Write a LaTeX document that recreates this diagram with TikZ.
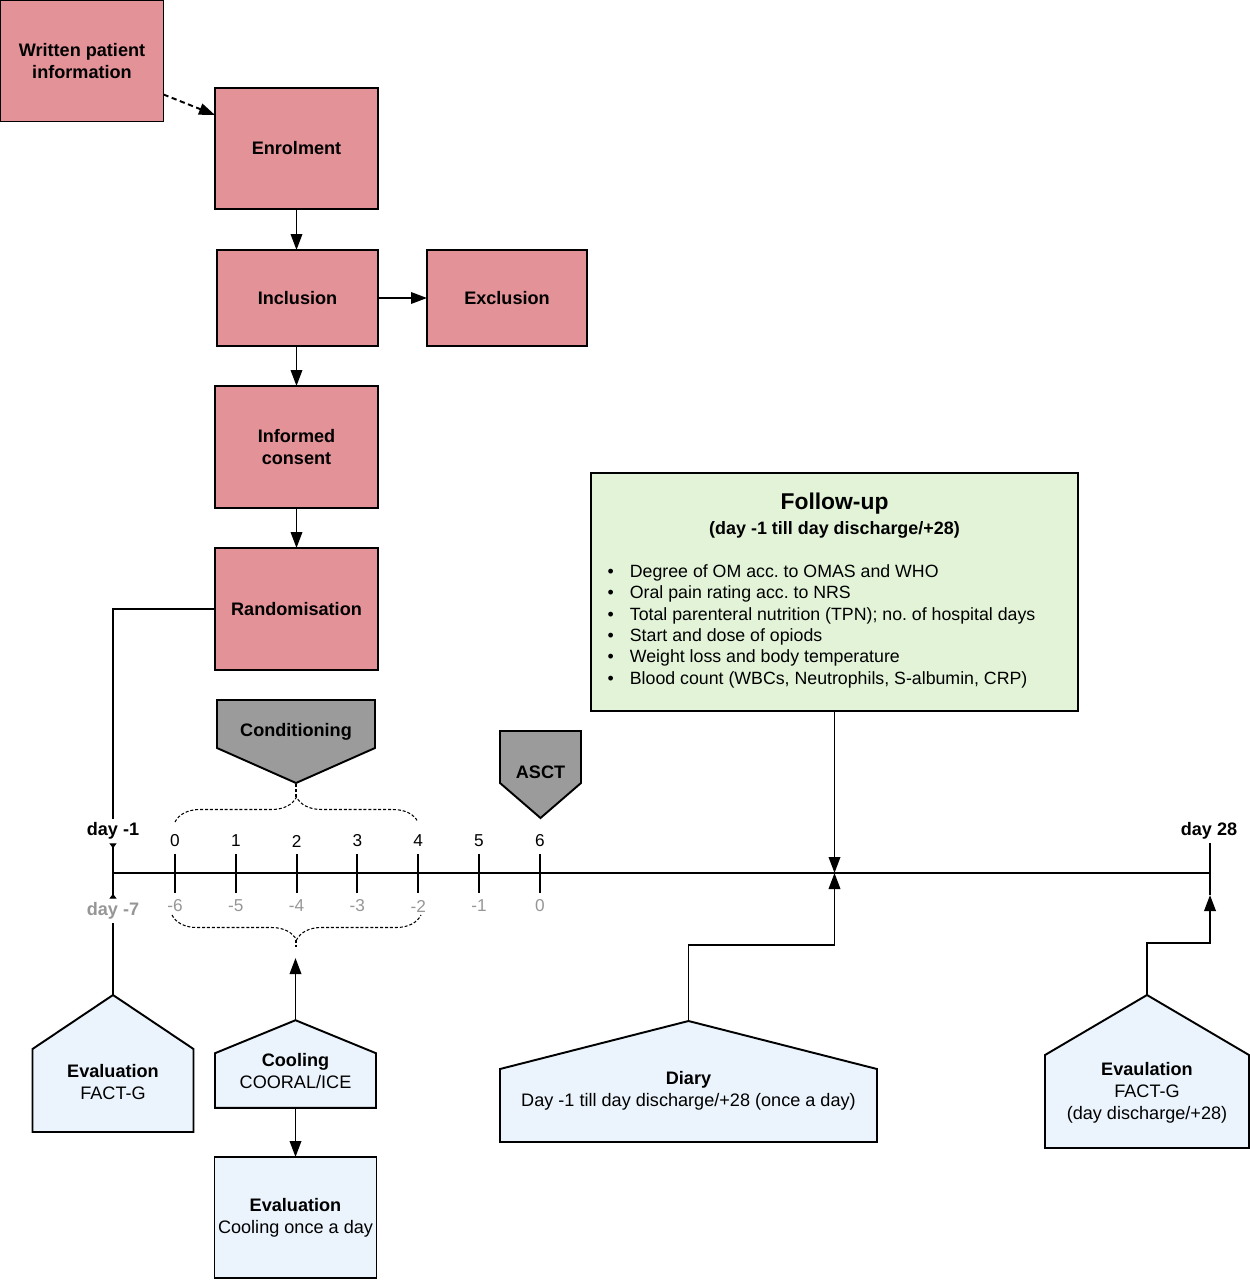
\documentclass[tikz,border=0pt]{standalone}
\usepackage{fontspec}
\setmainfont{Liberation Sans}
\usetikzlibrary{
    arrows.meta,
    positioning,
    calc,
    backgrounds,
    decorations.pathreplacing
}
\definecolor{boxpink}{RGB}{227,146,152}
\definecolor{fugreen}{RGB}{226,243,216}
\definecolor{evalblue}{RGB}{235,244,252}
\definecolor{flaggray}{RGB}{155,155,155}
\definecolor{greytxt}{RGB}{150,150,150}
\frenchspacing

\begin{document}
\begin{tikzpicture}[
        block/.style={draw, line width=1.1pt, fill=boxpink, minimum width=3.26cm, minimum height=2.42cm, align=center, inner sep=0pt, outer sep=0pt, font=\fontsize{10.3}{12}\selectfont\bfseries},
        flagtext/.style={inner sep=0pt, outer sep=0pt, text depth=0cm, font=\fontsize{10.3}{12}\selectfont\bfseries},
        housetext/.style={align=center, inner sep=0pt, outer sep=0pt, font=\fontsize{10.3}{12.5}\selectfont},
        outline/.style={draw, line width=1.1pt, line join=miter},
        arrow/.style={-{Triangle[length=3.2mm, width=2.3mm]}, line width=1.1pt},
        conn/.style={line width=1.1pt},
        tinytip/.style={-{Triangle[reversed, length=1mm, width=1.4mm]}, line width=1.1pt},
        dashbrace/.style={decorate, decoration={brace, amplitude=0.5cm}, line width=0.6pt, dash pattern=on 1.7pt off 1.1pt},
        daylabel/.style={inner sep=2pt, font=\fontsize{10.3}{12}\selectfont\bfseries},
        daynum/.style={inner sep=1pt, font=\fontsize{9.8}{11}\selectfont}
    ]
        \useasboundingbox (0,0) rectangle (25,-25.6);

        % Written patient information
        \node[block] (wpi) at (1.64,-1.22) {Written patient\\information};

        % Enrolment
        \node[block] (enrol) at (5.93,-2.97) {Enrolment};

        % Inclusion and exclusion
        \node[block, minimum width=3.22cm, minimum height=1.92cm] (incl) at (5.95,-5.96) {Inclusion};
        \node[block, minimum width=3.2cm, minimum height=1.92cm] (excl) at (10.14,-5.96) {Exclusion};

        % Informed consent
        \node[block, minimum height=2.44cm] (consent) at (5.93,-8.94) {Informed\\consent};

        % Randomisation
        \node[block, minimum height=2.44cm] (rand) at (5.93,-12.18) {Randomisation};

        % Follow-up
        \node[draw, line width=1.1pt, fill=fugreen, minimum width=9.74cm, minimum height=4.76cm, align=center, inner sep=0pt, outer sep=0pt, font=\fontsize{10.1}{12.2}\selectfont] (follow) at (16.69,-11.84) {%
            {\fontsize{13}{15}\selectfont\bfseries Follow-up}\\[2pt]
            {\fontsize{10.2}{12}\selectfont\bfseries (day -1 till day discharge/+28)}\\[12pt]
            \begin{tabular}[t]{@{}l@{\hspace{0.32cm}}l@{\hspace{0.52cm}}}
                \textbullet & Degree of OM acc. to OMAS and WHO\\
                \textbullet & Oral pain rating acc. to NRS\\
                \textbullet & Total parenteral nutrition (TPN); no. of hospital days\\
                \textbullet & Start and dose of opiods\\
                \textbullet & Weight loss and body temperature\\
                \textbullet & Blood count (WBCs, Neutrophils, S-albumin, CRP)
            \end{tabular}
        };

        % Conditioning and ASCT
        \node[flagtext, minimum width=3.16cm, minimum height=0.96cm, text height=0.5cm] (cond) at (5.92,-14.48) {Conditioning};
        \node[flagtext, minimum width=1.62cm, minimum height=1.04cm, text height=0.85cm] (asct) at (10.81,-15.14) {ASCT};
        \coordinate (condtip) at ([yshift=-0.7cm]cond.south);
        \coordinate (ascttip) at ([yshift=-0.7cm]asct.south);

        % Evaluations, cooling, diary
        \node[housetext, minimum width=3.22cm, minimum height=1.66cm] (evalA) at (2.26,-21.81) {\textbf{Evaluation}\\FACT-G\rule[-0.35cm]{0pt}{0.35cm}};
        \node[housetext, minimum width=3.22cm, minimum height=1.02cm] (cool) at (5.91,-21.61) {\textbf{Cooling}\\COORAL/ICE\rule[-0.39cm]{0pt}{0.39cm}};
        \node[block, fill=evalblue, minimum width=3.24cm, font=\fontsize{10.3}{12.5}\selectfont] (evalC) at (5.91,-24.35) {\textbf{Evaluation}\\Cooling once a day};
        \node[housetext, minimum width=7.54cm, minimum height=1.46cm] (diary) at (13.77,-22.11) {\textbf{Diary}\\Day -1 till day discharge/+28 (once a day)\rule[-0.65cm]{0pt}{0.65cm}};
        \node[housetext, minimum width=4.08cm, minimum height=1.86cm] (evalB) at (22.94,-22.03) {\textbf{Evaulation}\\FACT-G\\(day discharge/+28)\rule[-0.43cm]{0pt}{0.43cm}};
        \coordinate (evalAtip) at ([yshift=1.08cm]evalA.north);
        \coordinate (cooltip) at ([yshift=0.66cm]cool.north);
        \coordinate (diarytip) at ([yshift=0.96cm]diary.north);
        \coordinate (evalBtip) at ([yshift=1.2cm]evalB.north);

        % Pentagon outlines
        \begin{scope}[on background layer]
            \filldraw[outline, fill=flaggray] (cond.south west) -- (cond.north west) -- (cond.north east) -- (cond.south east) -- (condtip) -- cycle;
            \filldraw[outline, fill=flaggray] (asct.south west) -- (asct.north west) -- (asct.north east) -- (asct.south east) -- (ascttip) -- cycle;
            \filldraw[outline, fill=evalblue] (evalA.north west) -- (evalAtip) -- (evalA.north east) -- (evalA.south east) -- (evalA.south west) -- cycle;
            \filldraw[outline, fill=evalblue] (cool.north west) -- (cooltip) -- (cool.north east) -- (cool.south east) -- (cool.south west) -- cycle;
            \filldraw[outline, fill=evalblue] (diary.north west) -- (diarytip) -- (diary.north east) -- (diary.south east) -- (diary.south west) -- cycle;
            \filldraw[outline, fill=evalblue] (evalB.north west) -- (evalBtip) -- (evalB.north east) -- (evalB.south east) -- (evalB.south west) -- cycle;
        \end{scope}

        % Time line
        \coordinate (axL) at (2.26,-17.46);
        \coordinate (axR) at (24.2,-17.46);
        \draw[conn] (axL) -- (axR);
        \node[daylabel] (dm1) at (2.26,-16.62) {day -1};
        \node[daylabel, text=greytxt] (dm7) at (2.26,-18.22) {day -7};
        \node[daylabel] (d28) at (24.18,-16.62) {day 28};
        \coordinate (d28end) at (24.2,-17.9);
        \draw[conn] (axR |- d28.south) -- (d28end);
        \foreach \i [evaluate=\i as \x using 3.5+1.216*\i, evaluate=\i as \b using int(\i-6)] in {0,...,6} {
            \draw[conn] (\x,-17.08) -- (\x,-17.86);
            \node[daynum] (top\i) at (\x,-16.82) {\i};
            \node[daynum, text=greytxt] (bot\i) at (\x,-18.12) {\b};
        }

        % Braces
        \draw[dashbrace] (3.5,-16.44) -- (8.36,-16.44);
        \draw[dashbrace, decoration={mirror}] (3.44,-18.3) -- (8.42,-18.3);
        \coordinate (upbr) at (5.92,-15.94);
        \coordinate (lowbr) at (5.92,-18.8);
        \draw[line width=0.6pt, dash pattern=on 1.7pt off 1.1pt] (upbr) -- (condtip);
        \draw[line width=0.6pt, dash pattern=on 1.7pt off 1.1pt] (lowbr) -- ++(0,-0.14);

        % Arrows
        \draw[arrow, dash pattern=on 3pt off 2pt] ([yshift=0.54cm]wpi.south east) -- ([yshift=-0.54cm]enrol.north west);
        \draw[arrow] (enrol.south) -- (enrol.south |- incl.north);
        \draw[arrow] (incl) -- (excl);
        \draw[arrow] (consent.north |- incl.south) -- (consent.north);
        \draw[arrow] (consent) -- (rand);
        \draw[conn] (rand.west) -| (dm1.north);
        \draw[tinytip] (axL) -- (dm1.south);
        \draw[conn] (evalAtip) -- (dm7.south);
        \draw[tinytip] (axL) -- (dm7.north);
        \draw[arrow] (cooltip) -- (cooltip |- 0,-19.16);
        \draw[arrow] (cool) -- (evalC);
        \draw[arrow] (follow.south) -- (follow.south |- axL);
        \draw[arrow] (diarytip) -- ++(0,1.52) -| (follow.south |- axL);
        \draw[arrow] (evalBtip) -- ++(0,1.04) -| (d28end);
    \end{tikzpicture}
\end{document}
